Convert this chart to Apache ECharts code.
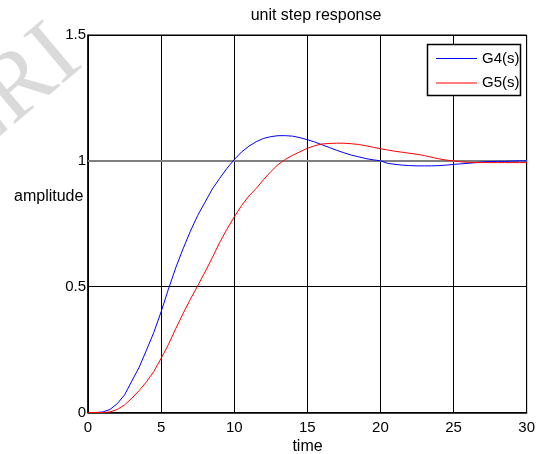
<!DOCTYPE html>
<html>
<head>
<meta charset="utf-8">
<script src="https://cdn.jsdelivr.net/npm/echarts@6/dist/echarts.min.js"></script>
<style>
html,body{margin:0;padding:0;background:#fff;}
#chart{width:538px;height:454px;}
</style>
</head>
<body>
<div id="chart"></div>
<script>
// time samples (s)
var times = [0,0.5,1,1.5,2,2.5,3,3.5,4,4.5,5,5.5,6,6.5,7,7.5,8,8.5,9,9.5,10,10.5,11,11.5,12,12.5,13,13.5,14,14.5,15,15.5,16,16.5,17,17.5,18,18.5,19,19.5,20,20.5,21,21.5,22,22.5,23,23.5,24,24.5,25,25.5,26,26.5,27,27.5,28,28.5,29,29.5,30];
// G4(s) step response
var g4 = [0,0,0.002,0.012,0.035,0.07,0.125,0.18,0.248,0.318,0.40,0.49,0.575,0.65,0.72,0.783,0.835,0.888,0.93,0.97,1.005,1.035,1.058,1.076,1.089,1.096,1.10,1.10,1.098,1.092,1.084,1.075,1.064,1.053,1.042,1.032,1.023,1.016,1.009,1.004,1.0,0.99,0.986,0.983,0.981,0.98,0.98,0.98,0.981,0.983,0.986,0.988,0.99,0.993,0.996,0.997,0.998,0.998,0.999,1.0,1.0];
// G5(s) step response
var g5 = [0,0,0,0.002,0.012,0.03,0.057,0.087,0.122,0.163,0.215,0.27,0.333,0.393,0.45,0.503,0.558,0.615,0.675,0.728,0.777,0.822,0.86,0.89,0.925,0.957,0.985,1.006,1.022,1.036,1.05,1.06,1.067,1.069,1.07,1.07,1.068,1.065,1.06,1.054,1.048,1.043,1.038,1.034,1.03,1.026,1.021,1.014,1.008,1.003,1.0,0.996,0.994,0.993,0.993,0.993,0.993,0.993,0.993,0.993,0.993];
var seriesNames = ['G4(s)', 'G5(s)'];
var referenceLevel = 1;
var titleText = 'unit step response';
var xName = 'time';
var yName = 'amplitude';
var watermark = 'ERI';

var FONT = 'Liberation Sans, Arial, sans-serif';
var chart = echarts.init(document.getElementById('chart'));
function pairs(ys){ return times.map(function(t,i){ return [t, ys[i]]; }); }

chart.setOption({
  backgroundColor: '#fff',
  animation: false,
  grid: {left: 88, right: 11, top: 35, bottom: 41.5, show: true, borderColor: '#000', borderWidth: 1, backgroundColor: 'transparent'},
  xAxis: {
    type: 'value', min: 0, max: 30, interval: 5,
    axisLine: {show: true, lineStyle: {color: '#000', width: 1.5}},
    axisTick: {show: false},
    axisLabel: {color: '#000', fontSize: 15, fontFamily: FONT, margin: 8},
    splitLine: {show: true, lineStyle: {color: '#000', width: 1}}
  },
  yAxis: {
    type: 'value', min: 0, max: 1.5, interval: 0.5,
    axisLine: {show: true, lineStyle: {color: '#000', width: 1.5}},
    axisTick: {show: false},
    axisLabel: {color: '#000', fontSize: 15, fontFamily: FONT, margin: 2},
    splitLine: {show: true, lineStyle: {color: ['#000', '#000', '#808080', '#000'], width: 1}}
  },
  legend: {
    left: 436, top: 51, orient: 'vertical', padding: 0,
    icon: 'rect', itemWidth: 41, itemHeight: 1, itemGap: 9.4,
    textStyle: {color: '#000', fontSize: 15, fontFamily: FONT, lineHeight: 14},
    data: seriesNames
  },
  graphic: [
    {type: 'text', z: 0, x: 10, y: 95, rotation: 40 * Math.PI / 180,
     style: {text: watermark, fill: '#dadada', font: '95px "Liberation Serif", serif', textAlign: 'center', textVerticalAlign: 'middle'}},
    {type: 'text', z: 10, x: 316, y: 16, style: {text: titleText, fill: '#000', font: '16px ' + FONT, textAlign: 'center', textVerticalAlign: 'middle'}},
    {type: 'text', z: 10, x: 307.5, y: 447, style: {text: xName, fill: '#000', font: '16px ' + FONT, textAlign: 'center', textVerticalAlign: 'middle'}},
    {type: 'text', z: 10, x: 14, y: 197, style: {text: yName, fill: '#000', font: '16px ' + FONT, textAlign: 'left', textVerticalAlign: 'middle'}},
    {type: 'rect', z: 3, shape: {x: 427.5, y: 44.5, width: 93, height: 51}, style: {fill: '#fff', stroke: '#000', lineWidth: 1.5}}
  ],
  series: [
    {name: seriesNames[0], type: 'line', symbol: 'none', z: 2, data: pairs(g4), lineStyle: {color: '#0000ff', width: 1}, itemStyle: {color: '#0000ff'},
     markLine: {silent: true, symbol: 'none', label: {show: false}, lineStyle: {color: '#808080', width: 2, type: 'solid'}, z: 1,
                data: [{yAxis: referenceLevel}]}},
    {name: seriesNames[1], type: 'line', symbol: 'none', z: 2, data: pairs(g5), lineStyle: {color: '#ff0000', width: 1}, itemStyle: {color: '#ff0000'}}
  ]
});
</script>
</body>
</html>
